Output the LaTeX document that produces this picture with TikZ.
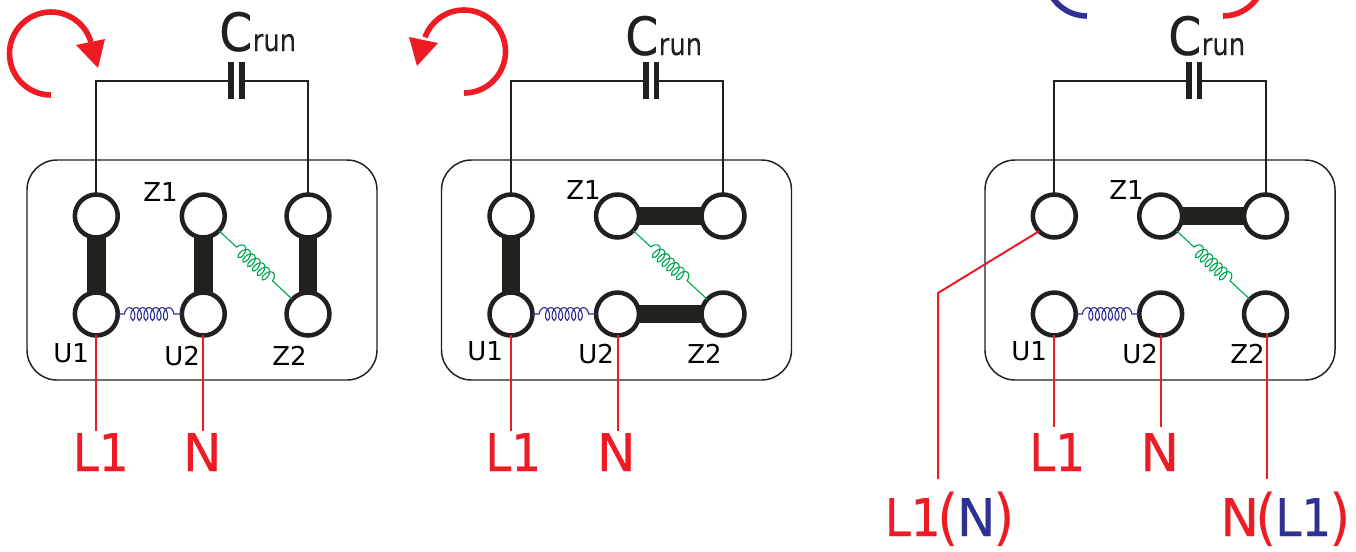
\documentclass[tikz,border=0pt]{standalone}
\usepackage{fontspec}
\setmainfont{DejaVu Sans}
\newfontfamily\bigfam[FakeStretch=.9,FakeBold=.4]{DejaVu Sans}
\newfontfamily\nfam[FakeBold=.4]{DejaVu Sans}
\newfontfamily\runfam[FakeStretch=.85,FakeBold=.2]{DejaVu Sans}
\newfontfamily\parfam[FakeStretch=.9]{DejaVu Sans}
\usetikzlibrary{decorations.pathmorphing}
\definecolor{wred}{HTML}{ED1C24}
\definecolor{wblue}{HTML}{2E3192}
\definecolor{wgreen}{HTML}{00A651}
\definecolor{wblack}{HTML}{231F20}
\definecolor{wbar}{HTML}{22211D}
\newcommand{\parenL}{{\parfam\fontsize{46}{46}\selectfont\raisebox{-2pt}{(}}}
\newcommand{\parenR}{{\parfam\fontsize{46}{46}\selectfont\raisebox{-2pt}{)}}}
\tikzset{
 term/.style={circle,draw=wblack,fill=white,line width=3.4pt,minimum size=32.2pt,inner sep=0pt,outer sep=0pt},
 barlink/.style={draw=wbar,line width=14.2pt},
 wire/.style={draw=wblack,line width=1.5pt},
 redwire/.style={draw=wred,line width=1.5pt},
 motorbox/.style={draw=wblack,line width=1.1pt,rounded corners=22.5pt},
 plate/.style={fill=wblack,minimum width=4.4pt,minimum height=28pt,inner sep=0pt,outer sep=0pt},
 bluecoil/.style={draw=wblue,line width=.85pt,decorate,decoration={coil,aspect=.55,amplitude=4.8pt,segment length=4.9pt,pre length=5pt,post length=5pt}},
 greencoil/.style={draw=wgreen,line width=.85pt,decorate,decoration={coil,aspect=.55,amplitude=4.8pt,segment length=4.9pt,pre length=18pt,post length=16pt}},
 tlabel/.style={anchor=base west,inner sep=0pt,text=black,font=\fontsize{19.5}{20}\selectfont},
 biglabel/.style={anchor=base west,inner sep=0pt,text=wred,font=\fontsize{39}{40}\bigfam},
 nlabel/.style={anchor=base west,inner sep=0pt,text=wred,font=\fontsize{39}{40}\nfam},
 capC/.style={anchor=base west,inner sep=0pt,text=wblack,font=\fontsize{39.6}{40}\bigfam},
 capR/.style={anchor=base west,inner sep=0pt,text=wblack,font=\fontsize{22.8}{24}\runfam},
 rot/.style={line width=4.2pt},
}
\begin{document}
\begin{tikzpicture}[x=.75pt,y=-.75pt]
\useasboundingbox (0,0) rectangle (1356,551);
\clip (0,0) rectangle (1356,551);
% ---------- rotation arrows
\draw[rot,draw=wred] (51,95) arc (90:344:41.5);
\fill[wred] (76,45) -- (105,39) -- (98,68) -- cycle;
\draw[rot,draw=wred] (464,93) arc (90:-160:41.5);
\fill[wred] (409,37) -- (438,43) -- (417,66) -- cycle;
\draw[rot,draw=wblue] (1087,16) arc (90:200:41.5);
\draw[rot,draw=wred] (1223,16) arc (90:-20:41.5);
% ---------- panel 1
\draw[motorbox] (27,160) rectangle (377,380);
\node[term] (a1) at (96.3,216) {};
\node[term] (b1) at (203.3,216) {};
\node[term] (c1) at (308,216) {};
\node[term] (d1) at (96.3,314) {};
\node[term] (e1) at (203.3,314) {};
\node[term] (f1) at (308,314) {};
\node[plate] (pl1) at (231.3,80.5) {};
\node[plate] (pr1) at (242,80.5) {};
\draw[wire] (a1.north) |- (pl1.center);
\draw[wire] (c1.north) |- (pr1.center);
\draw[barlink] (a1) -- (d1);
\draw[barlink] (b1) -- (e1);
\draw[barlink] (c1) -- (f1);
\draw[bluecoil] (d1) -- (e1);
\draw[greencoil] (b1) -- (f1);
\coordinate (w1l) at (96.3,431);
\coordinate (w1n) at (203.3,431);
\draw[redwire] (d1.south) -- (w1l);
\draw[redwire] (e1.south) -- (w1n);
\node[capC] (cc1) at (219,51) {C};
\node[capR] (cr1) at (252.5,51) {run};
\node[tlabel] (z1a) at (143,201) {Z1};
\node[tlabel] (u1a) at (53,362) {U1};
\node[tlabel] (u2a) at (164,365) {U2};
\node[tlabel] (z2a) at (272,365) {Z2};
\node[biglabel] (l1a) at (72.5,471) {L1};
\node[nlabel] (na) at (182.5,471) {N};
% ---------- panel 2
\draw[motorbox] (441.5,160) rectangle (791.5,380);
\node[term] (a2) at (511,216) {};
\node[term] (b2) at (617.5,216) {};
\node[term] (c2) at (723,216) {};
\node[term] (d2) at (511,314) {};
\node[term] (e2) at (617.5,314) {};
\node[term] (f2) at (723,314) {};
\node[plate] (pl2) at (646,80.5) {};
\node[plate] (pr2) at (656.5,80.5) {};
\draw[wire] (a2.north) |- (pl2.center);
\draw[wire] (c2.north) |- (pr2.center);
\draw[barlink] (a2) -- (d2);
\draw[barlink] (b2) -- (c2);
\draw[barlink] (e2) -- (f2);
\draw[bluecoil] (d2) -- (e2);
\draw[greencoil] (b2) -- (f2);
\coordinate (w2l) at (511,431);
\coordinate (w2n) at (617.5,431);
\draw[redwire] (d2.south) -- (w2l);
\draw[redwire] (e2.south) -- (w2n);
\node[capC] (cc2) at (625,55) {C};
\node[capR] (cr2) at (658.5,55) {run};
\node[tlabel] (z1b) at (566,199) {Z1};
\node[tlabel] (u1b) at (467,360) {U1};
\node[tlabel] (u2b) at (578,363) {U2};
\node[tlabel] (z2b) at (687,363) {Z2};
\node[biglabel] (l1b) at (485,471) {L1};
\node[nlabel] (nb) at (596.5,471) {N};
% ---------- panel 3
\draw[motorbox] (985,160) rectangle (1335,380);
\node[term] (a3) at (1054.3,216) {};
\node[term] (b3) at (1160.7,216) {};
\node[term] (c3) at (1265.5,216) {};
\node[term] (d3) at (1054.3,314) {};
\node[term] (e3) at (1160.7,314) {};
\node[term] (f3) at (1265.5,314) {};
\node[plate] (pl3) at (1189,80.5) {};
\node[plate] (pr3) at (1199.5,80.5) {};
\draw[wire] (a3.north) |- (pl3.center);
\draw[wire] (c3.north) |- (pr3.center);
\draw[barlink] (b3) -- (c3);
\draw[bluecoil] (d3) -- (e3);
\draw[greencoil] (b3) -- (f3);
\coordinate (w3l) at (1054.3,427);
\coordinate (w3n) at (1160.7,427);
\coordinate (w3k) at (938,293);
\coordinate (w3a) at (938,479);
\coordinate (w3b) at (1267,479);
\coordinate (w3t) at (1267,333);
\draw[redwire] (d3.south) -- (w3l);
\draw[redwire] (e3.south) -- (w3n);
\draw[redwire] (a3.south west) -- (w3k) -- (w3a);
\draw[redwire] (w3t) -- (w3b);
\node[capC] (cc3) at (1168,55) {C};
\node[capR] (cr3) at (1201.5,55) {run};
\node[tlabel] (z1c) at (1109,199) {Z1};
\node[tlabel] (u1c) at (1011,360) {U1};
\node[tlabel] (u2c) at (1122,363) {U2};
\node[tlabel] (z2c) at (1230,363) {Z2};
\node[biglabel] (l1c) at (1029,471) {L1};
\node[nlabel] (nc) at (1140,471) {N};
\node[biglabel] (lnc) at (884.5,536) {L1\kern-2.5pt\parenL\kern-1.5pt\textcolor{wblue}{\nfam N}\kern-1.5pt\parenR};
\node[biglabel] (nlc) at (1220,536) {{\nfam N}\kern-2.5pt\parenL\kern-1.5pt\textcolor{wblue}{L1}\kern-1.5pt\parenR};
\end{tikzpicture}
\end{document}
